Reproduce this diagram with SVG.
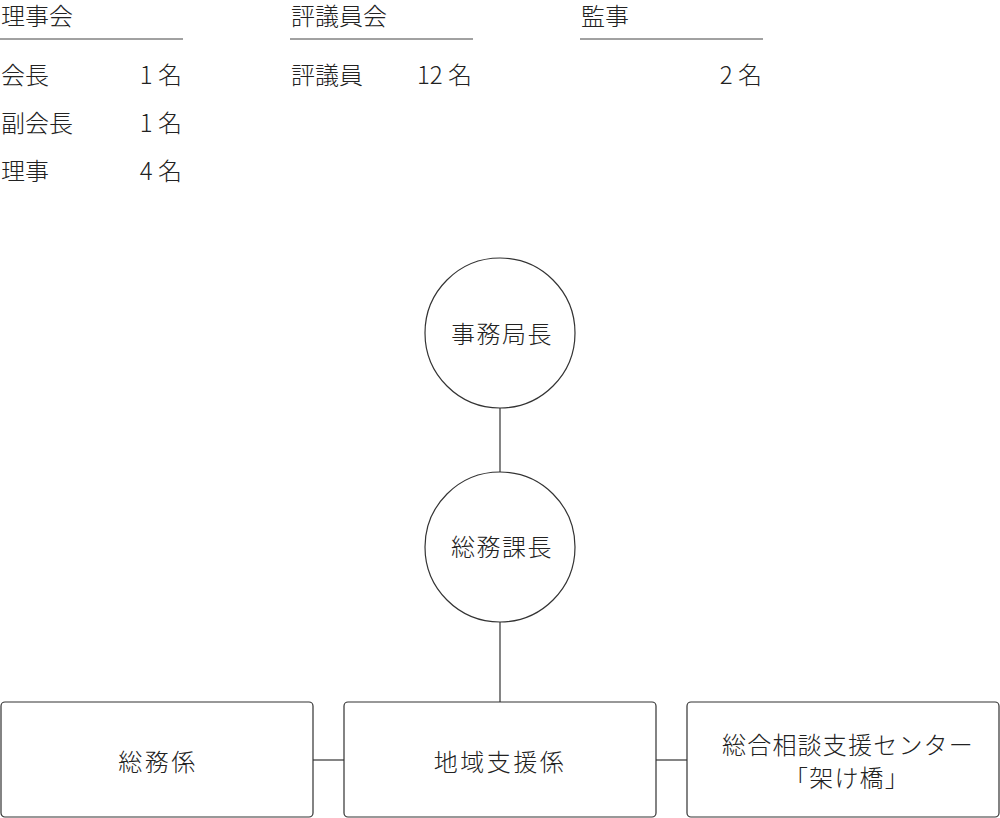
<svg xmlns="http://www.w3.org/2000/svg" width="1000" height="818" viewBox="0 0 1000 818">
<style>
text{font-family:"Noto Sans CJK JP","Noto Sans",sans-serif;fill:#222;font-size:24px;font-weight:300}
.r{text-anchor:end}
.c{text-anchor:middle}
.rule{stroke:#444;stroke-width:1}
.shape{fill:#fff;stroke:#333;stroke-width:1.2}
.conn{stroke:#333;stroke-width:1.2;fill:none}
</style>
<rect width="1000" height="818" fill="#fff"/>
<g id="board">
<text x="1" y="25">理事会</text>
<line x1="0" y1="39" x2="183" y2="39" class="rule"/>
<text x="1" y="84">会長</text><text x="182" y="84" class="r">1 名</text>
<text x="1" y="132">副会長</text><text x="182" y="132" class="r">1 名</text>
<text x="1" y="180">理事</text><text x="182" y="180" class="r">4  名</text>
</g>
<g id="council">
<text x="291" y="25">評議員会</text>
<line x1="290" y1="39" x2="473" y2="39" class="rule"/>
<text x="291" y="84">評議員</text><text x="472" y="84" class="r">12 名</text>
</g>
<g id="auditor">
<text x="581" y="25">監事</text>
<line x1="580" y1="39" x2="763" y2="39" class="rule"/>
<text x="762" y="84" class="r">2 名</text>
</g>
<g id="connectors">
<line x1="500" y1="408" x2="500" y2="472" class="conn"/>
<line x1="500" y1="622" x2="500" y2="702" class="conn"/>
<line x1="313" y1="760" x2="344" y2="760" class="conn"/>
<line x1="656" y1="760" x2="687" y2="760" class="conn"/>
</g>
<g id="director">
<circle cx="500" cy="333" r="75" class="shape"/>
<text x="502" y="343" class="c" letter-spacing="1.5">事務局長</text>
</g>
<g id="section-chief">
<circle cx="500" cy="547" r="75" class="shape"/>
<text x="502" y="556" class="c" letter-spacing="1.5">総務課長</text>
</g>
<g id="general-affairs">
<rect x="1" y="702" width="312" height="115" rx="4" class="shape"/>
<text x="158" y="771" class="c" letter-spacing="2.5">総務係</text>
</g>
<g id="community-support">
<rect x="344" y="702" width="312" height="115" rx="4" class="shape"/>
<text x="500" y="771" class="c" letter-spacing="2.5">地域支援係</text>
</g>
<g id="consultation-center">
<rect x="687" y="702" width="312" height="115" rx="4" class="shape"/>
<text x="848" y="754" class="c" letter-spacing="1.2">総合相談支援センター</text>
<text x="847" y="787" class="c" letter-spacing="1.2">「架け橋」</text>
</g>
</svg>
